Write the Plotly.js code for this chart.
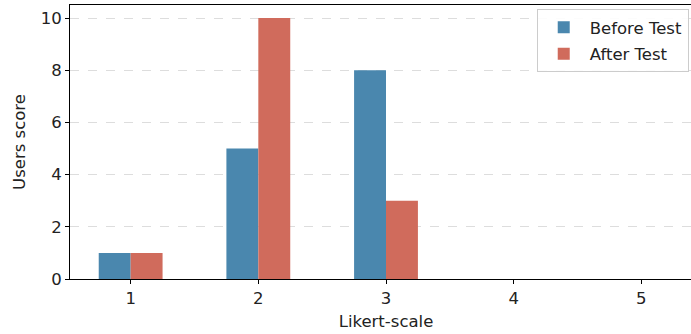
<!DOCTYPE html>
<html>
<head>
<meta charset="utf-8">
<script src="https://cdn.plot.ly/plotly-3.0.1.min.js"></script>
<style>
html,body{margin:0;padding:0;overflow:hidden;background:#fff;}
#chart{width:740px;height:334px;}
</style>
</head>
<body>
<div id="chart"></div>
<script>
const categories = [1, 2, 3, 4, 5];
const beforeTest = [1, 5, 8, 0, 0];
const afterTest = [1, 10, 3, 0, 0];
const seriesNames = ['Before Test', 'After Test'];
const yTicks = [0, 2, 4, 6, 8, 10];

const font = {family: 'DejaVu Sans, sans-serif', size: 16.5, color: '#222'};

const traces = [
  {type: 'bar', x: categories, y: beforeTest, name: seriesNames[0], legendgroup: 'a',
   marker: {color: '#4a87ae', line: {width: 0}}},
  {type: 'bar', x: categories, y: afterTest, name: seriesNames[1], legendgroup: 'b',
   marker: {color: '#d06b5c', line: {width: 0}}}
];

const layout = {
  width: 740, height: 334,
  margin: {l: 70, r: 38, t: 5, b: 55},
  paper_bgcolor: '#fff', plot_bgcolor: '#fff',
  font: font,
  barmode: 'group', bargap: 0.5, bargroupgap: 0,
  showlegend: true,
  legend: {
    x: 0.979, xanchor: 'right', y: 0.985, yanchor: 'top',
    bgcolor: 'rgba(255,255,255,0.9)', bordercolor: '#cccccc', borderwidth: 1,
    font: font, tracegroupgap: 2, itemwidth: 42
  },
  xaxis: {
    range: [0.525, 5.475],
    tickmode: 'array', tickvals: categories, ticktext: categories.map(String),
    ticks: 'outside', ticklen: 4, tickcolor: '#000', tickwidth: 1,
    showline: true, linecolor: '#000', linewidth: 1, mirror: true,
    showgrid: false, zeroline: false,
    tickfont: font,
    title: {text: 'Likert-scale', font: font, standoff: 8}
  },
  yaxis: {
    range: [0, 10.5],
    tickmode: 'array', tickvals: yTicks, ticktext: yTicks.map(String),
    ticks: 'outside', ticklen: 4, tickcolor: '#000', tickwidth: 1,
    showline: true, linecolor: '#000', linewidth: 1, mirror: false,
    showgrid: true, gridcolor: '#dddddd', griddash: 'dash', gridwidth: 1,
    zeroline: false,
    tickfont: font,
    title: {text: 'Users score', font: font, standoff: 10}
  }
};

Plotly.newPlot('chart', traces, layout, {displayModeBar: false, staticPlot: true});
</script>
</body>
</html>
